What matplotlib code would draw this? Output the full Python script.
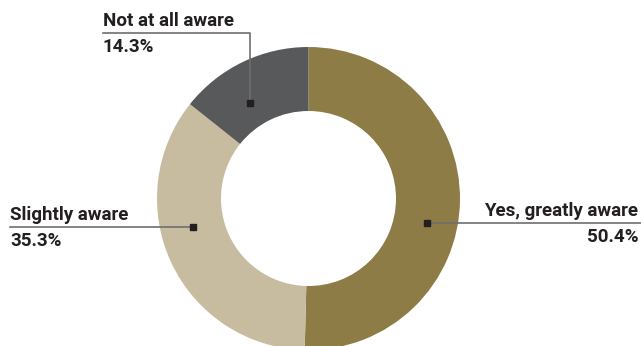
import matplotlib.pyplot as plt

labels = ["Yes, greatly aware", "Slightly aware", "Not at all aware"]
shares = [50.4, 35.3, 14.3]
colors = ["#8E7C47", "#C7BC9F", "#58595B"]

W, H = 641, 346
fig = plt.figure(figsize=(W / 100, H / 100), dpi=100)
ax = fig.add_axes([0, 0, 1, 1])

cx, cy, r = 308.5, H - 198.5, 151.5
ax.pie(shares, colors=colors, startangle=90, counterclock=False,
       center=(cx, cy), radius=r, frame=True,
       wedgeprops=dict(width=r - 87.5, linewidth=0))
ax.set_xlim(0, W)
ax.set_ylim(0, H)
ax.set_aspect("equal")
ax.axis("off")

font = dict(family=["Roboto", "DejaVu Sans"], fontweight="bold",
            fontsize=13.5, color="#231F20")
line_kw = dict(color="#6E6E6E", linewidth=1.2, zorder=3)

# callouts: marker point, elbow path, text anchor
# Not at all aware
mx, my = 250, H - 103
ax.plot([mx, mx, 103], [my, H - 33, H - 33], **line_kw)
ax.plot(mx, my, "s", color="#231F20", markersize=5, zorder=4)
ax.text(103, H - 30, labels[2], ha="left", va="bottom", **font)
ax.text(103, H - 38, f"{shares[2]}%", ha="left", va="top", **font)

# Slightly aware
mx, my = 193, H - 227
ax.plot([mx, 10], [my, my], **line_kw)
ax.plot(mx, my, "s", color="#231F20", markersize=5, zorder=4)
ax.text(10, my + 3, labels[1], ha="left", va="bottom", **font)
ax.text(10, my - 5, f"{shares[1]}%", ha="left", va="top", **font)

# Yes, greatly aware
mx, my = 427, H - 223
ax.plot([mx, 641], [my, my], **line_kw)
ax.plot(mx, my, "s", color="#231F20", markersize=5, zorder=4)
ax.text(638, my + 3, labels[0], ha="right", va="bottom", **font)
ax.text(638, my - 5, f"{shares[0]}%", ha="right", va="top", **font)

fig.savefig("out.png", dpi=100)
